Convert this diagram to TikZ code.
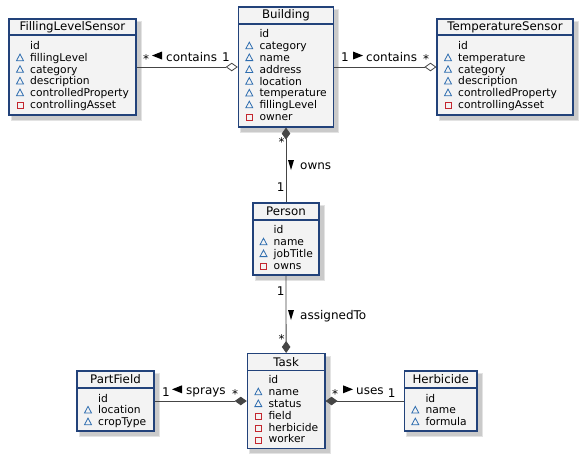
\documentclass[tikz,border=0pt]{standalone}
\usepackage{fontspec}
\setmainfont{DejaVu Sans}
\usetikzlibrary{arrows.meta}
\definecolor{bfill}{HTML}{F3F3F3}
\definecolor{bdraw}{HTML}{22427A}
\definecolor{lcol}{HTML}{454545}
\definecolor{prot}{HTML}{2E6DAF}
\definecolor{priv}{HTML}{C3262E}
\tikzset{
  cls/.style={draw=bdraw, line width=1.1pt, fill=bfill, inner sep=0pt, anchor=center},
  hdr/.style={font=\fontsize{11.8}{12}\selectfont, inner sep=0pt},
  att/.style={font=\fontsize{10.7}{11}\selectfont, inner sep=0pt, anchor=base west},
  lbl/.style={font=\fontsize{12}{12}\selectfont, inner sep=0pt, anchor=base},
  lblw/.style={font=\fontsize{12}{12}\selectfont, inner sep=0pt, anchor=base west},
  conn/.style={draw=lcol, line width=0.8pt},
  odia/.style={-{Diamond[fill=white, length=12pt, width=8.5pt]}},
  fdiaend/.style={-{Diamond[fill=lcol, length=12pt, width=8.5pt]}},
  fdiastart/.style={{Diamond[fill=lcol, length=12pt, width=8.5pt]}-},
  ptri/.style={draw=prot, line width=0.8pt},
  psq/.style={draw=priv, line width=0.8pt},
  shad/.style={fill=black, opacity=0.11},
}
\newcommand\umlcls[7]{%
  \fill[shad] ({#2+2},{#3+2}) rectangle ({#4+5.5},{#5+5.5});
  \fill[shad] ({#2+3},{#3+3}) rectangle ({#4+4.5},{#5+4.5});
  \node[cls, minimum width={(#4-#2)*1pt}, minimum height={(#5-#3)*1pt}] (#1) at ({(#2+#4)/2},{(#3+#5)/2}) {};
  \draw[bdraw, line width=1.1pt] ({#2},{#6}) -- ({#4},{#6});
  \node[hdr] (#1-title) at ({(#2+#4)/2},{(#3+#6)/2}) {#7};
}
\newcommand\plainattr[4]{%
  \node[att] (#1) at ({#2+21},{#3+3.9}) {#4};
}
\newcommand\protattr[4]{%
  \draw[ptri] ({#2+11-3.5},{#3+3}) -- ({#2+11+3.5},{#3+3}) -- ({#2+11},{#3-3.6}) -- cycle;
  \node[att] (#1) at ({#2+21},{#3+3.9}) {#4};
}
\newcommand\privattr[4]{%
  \draw[psq] ({#2+11-2.9},{#3-1.8}) rectangle ({#2+11+2.9},{#3+4});
  \node[att] (#1) at ({#2+21},{#3+3.9}) {#4};
}
\begin{document}
\begin{tikzpicture}[x=1pt,y=-1pt]
\useasboundingbox (0,0) rectangle (585,461);
\fill[white] (0,0) rectangle (585,461);

% FillingLevelSensor
\umlcls{fls}{9}{19}{136}{115}{35}{FillingLevelSensor}
\plainattr{fls-1}{9}{46}{id}
\protattr{fls-2}{9}{57.7}{fillingLevel}
\protattr{fls-3}{9}{69.3}{category}
\protattr{fls-4}{9}{81}{description}
\protattr{fls-5}{9}{92.7}{controlledProperty}
\privattr{fls-6}{9}{104.3}{controllingAsset}

% Building
\umlcls{bld}{238.3}{7}{333.7}{127}{24}{Building}
\plainattr{bld-1}{238.3}{34}{id}
\protattr{bld-2}{238.3}{45.8}{category}
\protattr{bld-3}{238.3}{57.6}{name}
\protattr{bld-4}{238.3}{69.4}{address}
\protattr{bld-5}{238.3}{81.2}{location}
\protattr{bld-6}{238.3}{93}{temperature}
\protattr{bld-7}{238.3}{104.8}{fillingLevel}
\privattr{bld-8}{238.3}{116.6}{owner}

% TemperatureSensor
\umlcls{ts}{437}{19}{573}{115}{35}{TemperatureSensor}
\plainattr{ts-1}{437}{46}{id}
\protattr{ts-2}{437}{57.7}{temperature}
\protattr{ts-3}{437}{69.3}{category}
\protattr{ts-4}{437}{81}{description}
\protattr{ts-5}{437}{92.7}{controlledProperty}
\privattr{ts-6}{437}{104.3}{controllingAsset}

% Person
\umlcls{per}{253}{203}{319}{275}{220}{Person}
\plainattr{per-1}{252.5}{230}{id}
\protattr{per-2}{252.5}{241.8}{name}
\protattr{per-3}{252.5}{253.6}{jobTitle}
\privattr{per-4}{252.5}{265.4}{owns}

% Task
\umlcls{task}{247.3}{353.5}{325}{448.5}{370.7}{Task}
\plainattr{task-1}{247.3}{380}{id}
\protattr{task-2}{247.3}{391.8}{name}
\protattr{task-3}{247.3}{403.6}{status}
\privattr{task-4}{247.3}{415.4}{field}
\privattr{task-5}{247.3}{427.2}{herbicide}
\privattr{task-6}{247.3}{439}{worker}

% PartField
\umlcls{pf}{77}{371}{154}{431}{388}{PartField}
\plainattr{pf-1}{77}{398.3}{id}
\protattr{pf-2}{77}{410}{location}
\protattr{pf-3}{77}{421.7}{cropType}

% Herbicide
\umlcls{herb}{404.3}{371}{477}{431}{388}{Herbicide}
\plainattr{herb-1}{404.3}{398.3}{id}
\protattr{herb-2}{404.3}{410}{name}
\protattr{herb-3}{404.3}{421.7}{formula}

% connectors
\draw[conn, odia] (fls.east) -- (bld.west);
\draw[conn, odia] (bld.east) -- (ts.west);
\draw[conn, fdiastart] (bld.south) -- (per.north);
\draw[conn, fdiaend] (per.south) -- (task.north);
\draw[conn, fdiaend] (pf.east) -- (task.west);
\draw[conn, fdiastart] (task.east) -- (herb.west);

% labels: left contains
\node[lbl] (l1a) at (146,63.2) {*};
\fill (152,55.5) -- (162,51.5) -- (162,59.5) -- cycle;
\node[lblw] (l1b) at (166,61) {contains};
\node[lbl] (l1c) at (226,61.4) {1};
% right contains
\node[lbl] (l2a) at (345,61.2) {1};
\fill (363,55.5) -- (353,51.5) -- (353,59.5) -- cycle;
\node[lblw] (l2b) at (366,61) {contains};
\node[lbl] (l2c) at (426,63.2) {*};
% owns
\node[lbl] (l3a) at (281.7,146.5) {*};
\fill (291,170) -- (288,160) -- (294,160) -- cycle;
\node[lblw] (l3b) at (300,169) {owns};
\node[lbl] (l3c) at (280.7,191.7) {1};
% assignedTo
\node[lbl] (l4a) at (280.7,295) {1};
\fill (291,320) -- (288,310) -- (294,310) -- cycle;
\node[lblw] (l4b) at (300,319) {assignedTo};
\node[lbl] (l4c) at (281.7,343) {*};
% sprays
\node[lbl] (l5a) at (166,396.7) {1};
\fill (172,389.3) -- (182,385.3) -- (182,393.3) -- cycle;
\node[lblw] (l5b) at (186,394) {sprays};
\node[lbl] (l5c) at (235,398.2) {*};
% uses
\node[lbl] (l6a) at (335,398.5) {*};
\fill (353,389.3) -- (343,385.3) -- (343,393.3) -- cycle;
\node[lblw] (l6b) at (356,394) {uses};
\node[lbl] (l6c) at (391.7,397) {1};
\end{tikzpicture}
\end{document}
